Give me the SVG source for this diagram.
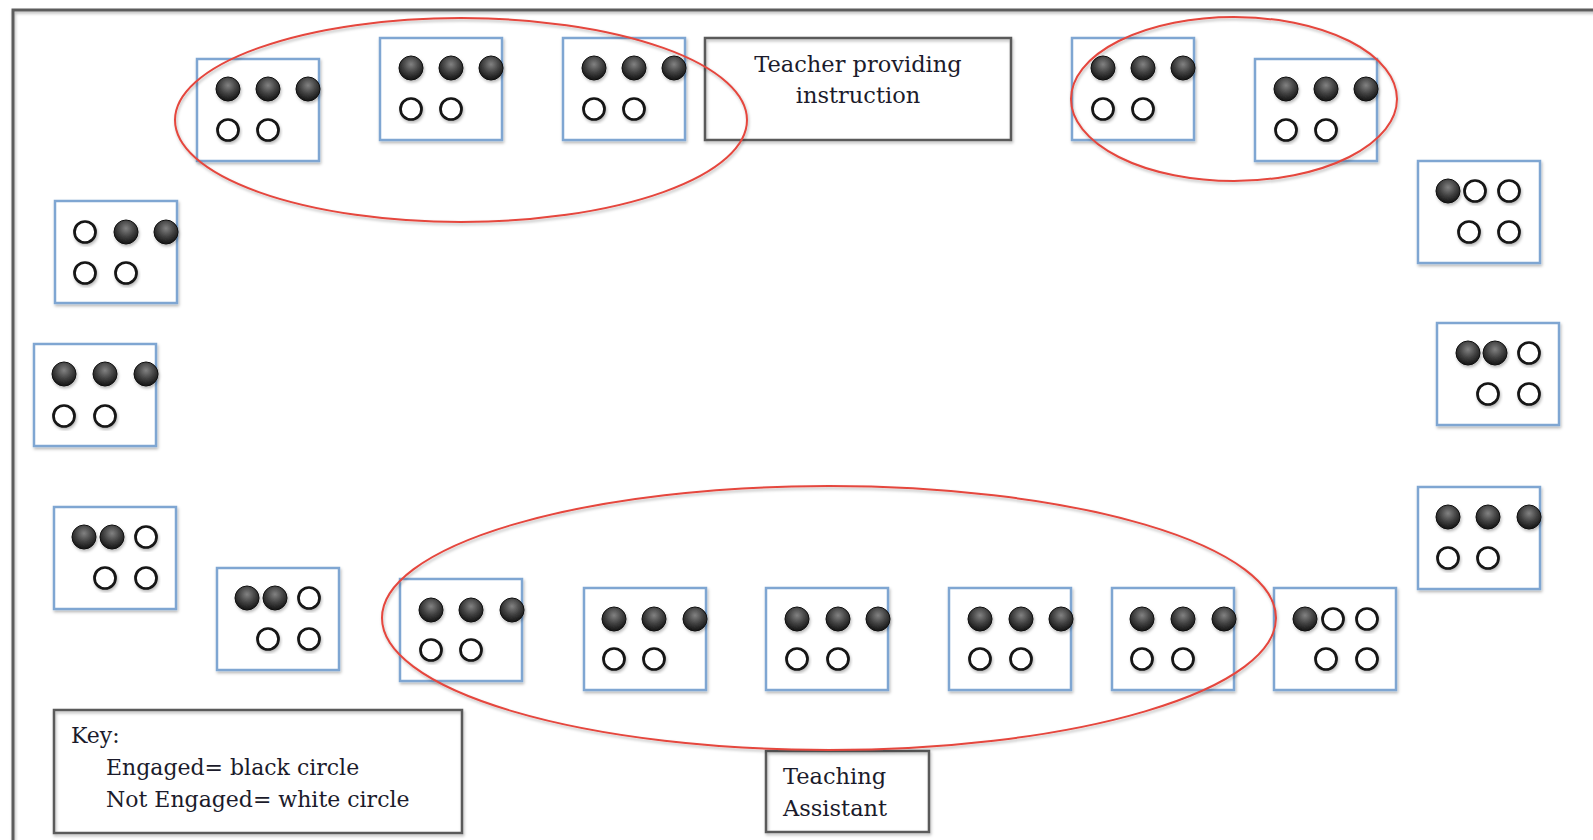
<svg xmlns="http://www.w3.org/2000/svg" xmlns:xlink="http://www.w3.org/1999/xlink" width="1593" height="840" viewBox="0 0 1593 840">
  <style>
    .desk { fill: #ffffff; stroke: #7fa6d2; stroke-width: 2.5; filter: url(#soft); }
    .on { fill: url(#ball); stroke: #111111; stroke-width: 1; filter: url(#soft); }
    .off { fill: #ffffff; stroke: #141414; stroke-width: 2.7; filter: url(#soft); }
    .box { fill: none; stroke: #5a5a5a; stroke-width: 2.5; filter: url(#soft); }
    .ring { fill: none; stroke: #e5463e; stroke-width: 2; filter: url(#soft); }
    .frame { fill: none; stroke: #5c5c5c; stroke-width: 3; filter: url(#soft); }
    .label { font-family: "DejaVu Serif", "Liberation Serif", serif; font-size: 22.5px; fill: #1b1b2b; }
    .small { font-size: 22px; }
  </style>
  <defs>
    <radialGradient id="ball" cx="50%" cy="35%" r="65%">
      <stop offset="0" stop-color="#828282"/>
      <stop offset="0.55" stop-color="#404040"/>
      <stop offset="1" stop-color="#121212"/>
    </radialGradient>
    <filter id="soft" x="-20%" y="-20%" width="140%" height="140%">
      <feDropShadow dx="1" dy="2" stdDeviation="1.4" flood-color="#000" flood-opacity="0.28"/>
    </filter>
  </defs>

  <rect width="1593" height="840" fill="#ffffff"/>

  <!-- room walls -->
  <path class="frame" d="M13,845 V10 H1600"/>

  <!-- teacher position -->
  <g id="teacher">
    <rect class="box" x="705" y="38" width="306" height="102"/>
    <text class="label" x="858" y="72" text-anchor="middle">Teacher providing</text>
    <text class="label" x="858" y="103" text-anchor="middle">instruction</text>
  </g>

  <!-- teaching assistant position -->
  <g id="assistant">
    <rect class="box" x="766" y="751" width="163" height="81"/>
    <text class="label" x="783" y="784">Teaching</text>
    <text class="label" x="783" y="816">Assistant</text>
  </g>

  <!-- legend -->
  <g id="key">
    <rect class="box" x="54" y="710" width="408" height="123"/>
    <text class="label small" x="71" y="743">Key:</text>
    <text class="label small" x="106" y="775">Engaged= black circle</text>
    <text class="label small" x="106" y="807">Not Engaged= white circle</text>
  </g>

  <!-- desks: three seats on the top row, two on the bottom row -->
  <g id="desk-t1" transform="translate(197,59)">
    <rect class="desk" width="122" height="102"/>
    <circle class="on" cx="31" cy="30" r="12"/><circle class="on" cx="71" cy="30" r="12"/><circle class="on" cx="111" cy="30" r="12"/>
    <circle class="off" cx="31" cy="71" r="10.5"/><circle class="off" cx="71" cy="71" r="10.5"/>
  </g>
  <g id="desk-t2" transform="translate(380,38)">
    <rect class="desk" width="122" height="102"/>
    <circle class="on" cx="31" cy="30" r="12"/><circle class="on" cx="71" cy="30" r="12"/><circle class="on" cx="111" cy="30" r="12"/>
    <circle class="off" cx="31" cy="71" r="10.5"/><circle class="off" cx="71" cy="71" r="10.5"/>
  </g>
  <g id="desk-t3" transform="translate(563,38)">
    <rect class="desk" width="122" height="102"/>
    <circle class="on" cx="31" cy="30" r="12"/><circle class="on" cx="71" cy="30" r="12"/><circle class="on" cx="111" cy="30" r="12"/>
    <circle class="off" cx="31" cy="71" r="10.5"/><circle class="off" cx="71" cy="71" r="10.5"/>
  </g>
  <g id="desk-t4" transform="translate(1072,38)">
    <rect class="desk" width="122" height="102"/>
    <circle class="on" cx="31" cy="30" r="12"/><circle class="on" cx="71" cy="30" r="12"/><circle class="on" cx="111" cy="30" r="12"/>
    <circle class="off" cx="31" cy="71" r="10.5"/><circle class="off" cx="71" cy="71" r="10.5"/>
  </g>
  <g id="desk-t5" transform="translate(1255,59)">
    <rect class="desk" width="122" height="102"/>
    <circle class="on" cx="31" cy="30" r="12"/><circle class="on" cx="71" cy="30" r="12"/><circle class="on" cx="111" cy="30" r="12"/>
    <circle class="off" cx="31" cy="71" r="10.5"/><circle class="off" cx="71" cy="71" r="10.5"/>
  </g>

  <g id="desk-r1" transform="translate(1418,161)">
    <rect class="desk" width="122" height="102"/>
    <circle class="on" cx="30" cy="30" r="12"/><circle class="off" cx="57" cy="30" r="10.5"/><circle class="off" cx="91" cy="30" r="10.5"/>
    <circle class="off" cx="51" cy="71" r="10.5"/><circle class="off" cx="91" cy="71" r="10.5"/>
  </g>
  <g id="desk-r2" transform="translate(1437,323)">
    <rect class="desk" width="122" height="102"/>
    <circle class="on" cx="31" cy="30" r="12"/><circle class="on" cx="58" cy="30" r="12"/><circle class="off" cx="92" cy="30" r="10.5"/>
    <circle class="off" cx="51" cy="71" r="10.5"/><circle class="off" cx="92" cy="71" r="10.5"/>
  </g>
  <g id="desk-r3" transform="translate(1418,487)">
    <rect class="desk" width="122" height="102"/>
    <circle class="on" cx="30" cy="30" r="12"/><circle class="on" cx="70" cy="30" r="12"/><circle class="on" cx="111" cy="30" r="12"/>
    <circle class="off" cx="30" cy="71" r="10.5"/><circle class="off" cx="70" cy="71" r="10.5"/>
  </g>
  <g id="desk-r4" transform="translate(1274,588)">
    <rect class="desk" width="122" height="102"/>
    <circle class="on" cx="31" cy="31" r="12"/><circle class="off" cx="59" cy="31" r="10.5"/><circle class="off" cx="93" cy="31" r="10.5"/>
    <circle class="off" cx="52" cy="71" r="10.5"/><circle class="off" cx="93" cy="71" r="10.5"/>
  </g>

  <g id="desk-b5" transform="translate(1112,588)">
    <rect class="desk" width="122" height="102"/>
    <circle class="on" cx="30" cy="31" r="12"/><circle class="on" cx="71" cy="31" r="12"/><circle class="on" cx="112" cy="31" r="12"/>
    <circle class="off" cx="30" cy="71" r="10.5"/><circle class="off" cx="71" cy="71" r="10.5"/>
  </g>
  <g id="desk-b4" transform="translate(949,588)">
    <rect class="desk" width="122" height="102"/>
    <circle class="on" cx="31" cy="31" r="12"/><circle class="on" cx="72" cy="31" r="12"/><circle class="on" cx="112" cy="31" r="12"/>
    <circle class="off" cx="31" cy="71" r="10.5"/><circle class="off" cx="72" cy="71" r="10.5"/>
  </g>
  <g id="desk-b3" transform="translate(766,588)">
    <rect class="desk" width="122" height="102"/>
    <circle class="on" cx="31" cy="31" r="12"/><circle class="on" cx="72" cy="31" r="12"/><circle class="on" cx="112" cy="31" r="12"/>
    <circle class="off" cx="31" cy="71" r="10.5"/><circle class="off" cx="72" cy="71" r="10.5"/>
  </g>
  <g id="desk-b2" transform="translate(584,588)">
    <rect class="desk" width="122" height="102"/>
    <circle class="on" cx="30" cy="31" r="12"/><circle class="on" cx="70" cy="31" r="12"/><circle class="on" cx="111" cy="31" r="12"/>
    <circle class="off" cx="30" cy="71" r="10.5"/><circle class="off" cx="70" cy="71" r="10.5"/>
  </g>
  <g id="desk-b1" transform="translate(400,579)">
    <rect class="desk" width="122" height="102"/>
    <circle class="on" cx="31" cy="31" r="12"/><circle class="on" cx="71" cy="31" r="12"/><circle class="on" cx="112" cy="31" r="12"/>
    <circle class="off" cx="31" cy="71" r="10.5"/><circle class="off" cx="71" cy="71" r="10.5"/>
  </g>

  <g id="desk-l4" transform="translate(217,568)">
    <rect class="desk" width="122" height="102"/>
    <circle class="on" cx="30" cy="30" r="12"/><circle class="on" cx="58" cy="30" r="12"/><circle class="off" cx="92" cy="30" r="10.5"/>
    <circle class="off" cx="51" cy="71" r="10.5"/><circle class="off" cx="92" cy="71" r="10.5"/>
  </g>
  <g id="desk-l3" transform="translate(54,507)">
    <rect class="desk" width="122" height="102"/>
    <circle class="on" cx="30" cy="30" r="12"/><circle class="on" cx="58" cy="30" r="12"/><circle class="off" cx="92" cy="30" r="10.5"/>
    <circle class="off" cx="51" cy="71" r="10.5"/><circle class="off" cx="92" cy="71" r="10.5"/>
  </g>
  <g id="desk-l2" transform="translate(34,344)">
    <rect class="desk" width="122" height="102"/>
    <circle class="on" cx="30" cy="30" r="12"/><circle class="on" cx="71" cy="30" r="12"/><circle class="on" cx="112" cy="30" r="12"/>
    <circle class="off" cx="30" cy="72" r="10.5"/><circle class="off" cx="71" cy="72" r="10.5"/>
  </g>
  <g id="desk-l1" transform="translate(55,201)">
    <rect class="desk" width="122" height="102"/>
    <circle class="off" cx="30" cy="31" r="10.5"/><circle class="on" cx="71" cy="31" r="12"/><circle class="on" cx="111" cy="31" r="12"/>
    <circle class="off" cx="30" cy="72" r="10.5"/><circle class="off" cx="71" cy="72" r="10.5"/>
  </g>

  <!-- clusters of fully engaged desks -->
  <g id="clusters">
    <ellipse class="ring" cx="461" cy="120" rx="286" ry="102"/>
    <ellipse class="ring" cx="1234" cy="99" rx="163" ry="82"/>
    <ellipse class="ring" cx="829" cy="618" rx="447" ry="132"/>
  </g>
</svg>
